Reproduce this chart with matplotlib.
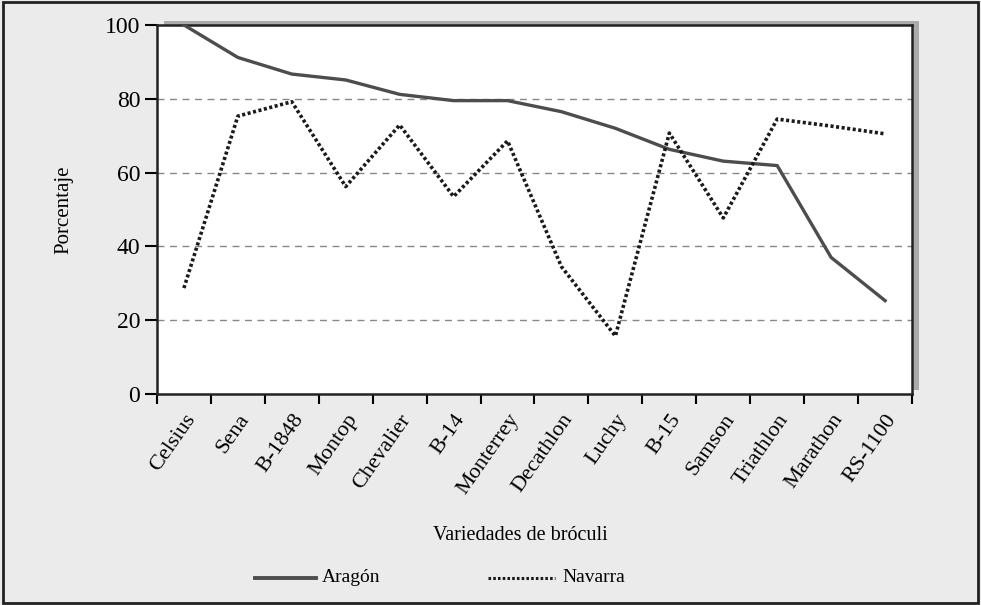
import numpy as np
import matplotlib.pyplot as plt
import matplotlib as mpl
from matplotlib.patches import Rectangle
from matplotlib.lines import Line2D

mpl.rcParams['font.family'] = 'Liberation Serif'

variedades = ['Celsius', 'Sena', 'B-1848', 'Montop', 'Chevalier', 'B-14', 'Monterrey',
              'Decathlon', 'Luchy', 'B-15', 'Samson', 'Triathlon', 'Marathon', 'RS-1100']
aragon = [100, 91.2, 86.7, 85.1, 81.2, 79.5, 79.5, 76.5, 72.0, 66.3, 63.1, 61.9, 37.0, 25.3]
navarra = [28.7, 75.3, 79.2, 56.2, 72.9, 53.5, 68.6, 34.5, 15.7, 70.7, 47.7, 74.5, 72.6, 70.5]
yticks = [0, 20, 40, 60, 80, 100]

fig = plt.figure(figsize=(9.81, 6.05), dpi=100)
fig.patch.set_facecolor('#ebebeb')

# outer frame
fig.patches.append(Rectangle((0.003, 0.004), 0.994, 0.992, transform=fig.transFigure,
                             fill=False, edgecolor='#222222', linewidth=2, zorder=0))

left, bottom, width, height = 0.160, 0.3488, 0.7697, 0.6099
# shadow behind plot area
fig.patches.append(Rectangle((left + 0.007, bottom + 0.007), width, height, transform=fig.transFigure,
                             facecolor='#aaaaaa', edgecolor='none', zorder=0))
ax = fig.add_axes([left, bottom, width, height])
ax.set_zorder(1)
ax.set_facecolor('white')

dotted = (0, (0.85, 0.7))
x = np.arange(len(variedades))
ax.plot(x, aragon, color='#4d4d4d', linewidth=2.4, solid_joinstyle='round', zorder=3)
ax.plot(x, navarra, color='#1a1a1a', linewidth=2.6, linestyle=dotted,
        dash_capstyle='butt', zorder=3)

ax.set_xlim(-0.5, len(variedades) - 0.5)
ax.set_ylim(0, 100)
ax.set_yticks(yticks)
ax.set_yticklabels([str(v) for v in yticks], fontsize=17)
for v in yticks[1:-1]:
    ax.axhline(v, color='#888888', linewidth=1.0, linestyle=(0, (5, 4)), zorder=1)

ax.set_xticks(np.arange(-0.5, len(variedades), 1))
ax.set_xticklabels([])
ax.set_xticks(x, minor=True)
ax.set_xticklabels(variedades, minor=True, rotation=55, ha='right', va='top',
                   rotation_mode='anchor', fontsize=16)
ax.tick_params(axis='x', which='minor', length=0, pad=12)
ax.tick_params(axis='x', which='major', direction='out', length=7, width=1.5)
ax.tick_params(axis='y', direction='out', length=9, width=1.5, pad=3)

for s in ax.spines.values():
    s.set_color('#222222')
    s.set_linewidth(1.8)

ax.set_ylabel('Porcentaje', fontsize=15)
ax.yaxis.set_label_coords(-0.111, 0.5)
fig.text(0.53, 0.115, 'Variedades de bróculi', fontsize=14.5, ha='center', va='center')

# legend
fig.lines.append(Line2D([0.26, 0.322], [0.045, 0.045], transform=fig.transFigure,
                        color='#4d4d4d', linewidth=2.8))
fig.text(0.328, 0.045, 'Aragón', fontsize=14, ha='left', va='center')
fig.lines.append(Line2D([0.497, 0.566], [0.045, 0.045], transform=fig.transFigure,
                        color='#1a1a1a', linewidth=2.2, linestyle=dotted))
fig.text(0.573, 0.045, 'Navarra', fontsize=14, ha='left', va='center')

plt.savefig('out.png', dpi=100)
